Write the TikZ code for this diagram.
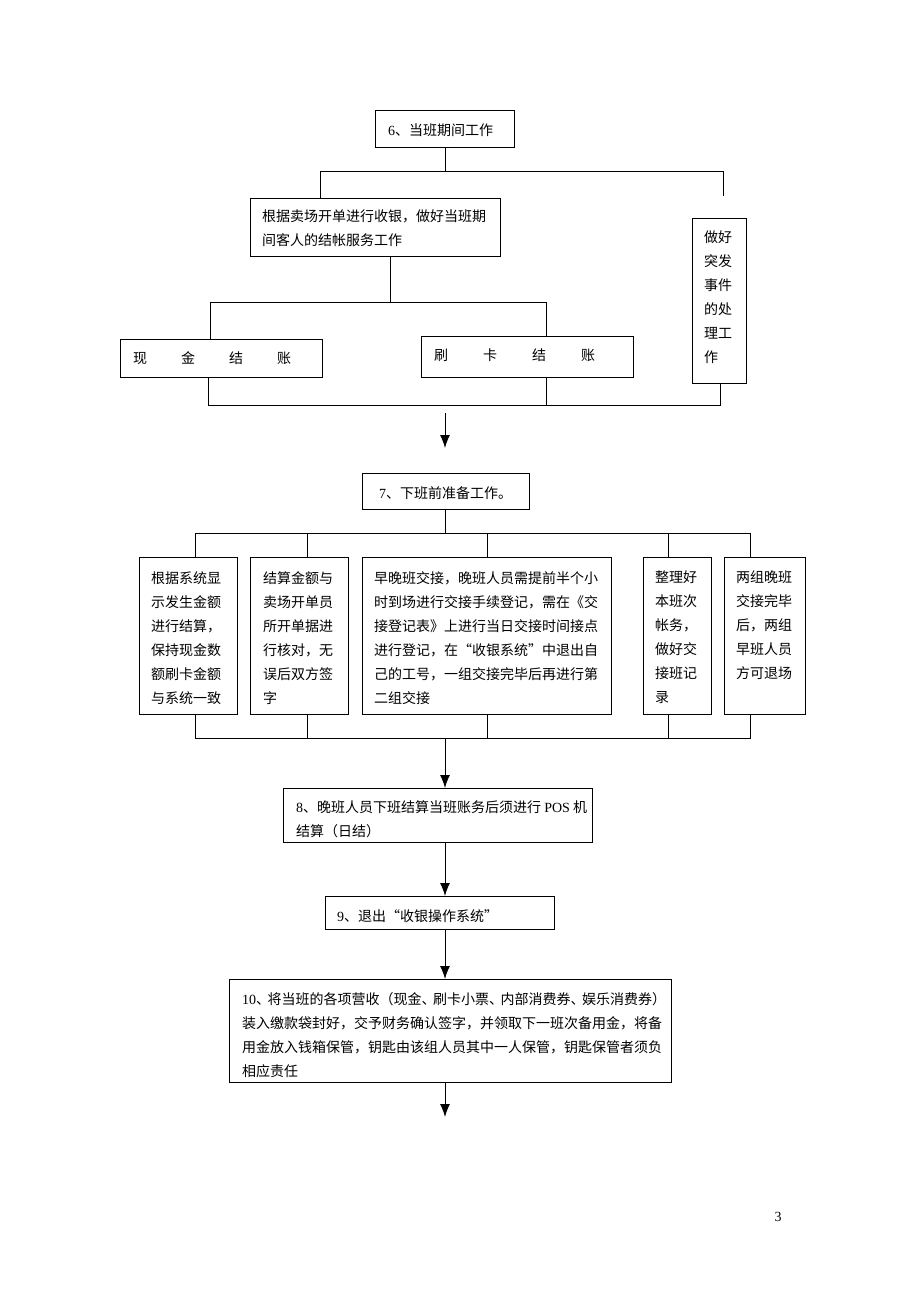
\documentclass[tikz,border=0pt]{standalone}
\usepackage{fontspec}
\setmainfont{Liberation Serif}
\newfontfamily\cjk{Noto Sans CJK SC}
\usetikzlibrary{arrows.meta,calc}
\newcommand\lat[1]{{\rmfamily #1}}
\newcommand\dun{、\kern-2.5pt}
\begin{document}
\begin{tikzpicture}[x=1pt,y=-1pt,
  box/.style={draw, line width=1.3pt, anchor=north west, inner sep=0pt},
  txt/.style={anchor=north west, inner sep=0pt, align=left, font=\cjk\fontsize{14}{24}\selectfont},
  conn/.style={line width=1pt},
  arr/.style={line width=1pt, -{Latex[length=13pt,width=10pt]}}]
\fill[white] (0,0) rectangle (920,1302);
\useasboundingbox (0,0) rectangle (920,1302);

% ---------- boxes ----------
\node[box, minimum width=139pt, minimum height=37pt] (n6) at (375,110) {};
\node[box, minimum width=250pt, minimum height=58pt] (nA) at (250,198) {};
\node[box, minimum width=202pt, minimum height=38pt] (nCash) at (120,339) {};
\node[box, minimum width=212pt, minimum height=41pt] (nCard) at (421,336) {};
\node[box, minimum width=54pt, minimum height=165pt] (nEm) at (692,218) {};
\node[box, minimum width=167pt, minimum height=36pt] (n7) at (362,473) {};
\node[box, minimum width=98pt, minimum height=157pt] (B1) at (139,557) {};
\node[box, minimum width=98pt, minimum height=157pt] (B2) at (250,557) {};
\node[box, minimum width=249pt, minimum height=157pt] (B3) at (362,557) {};
\node[box, minimum width=68pt, minimum height=157pt] (B4) at (643,557) {};
\node[box, minimum width=81pt, minimum height=157pt] (B5) at (724,557) {};
\node[box, minimum width=309pt, minimum height=54pt] (n8) at (283,788) {};
\node[box, minimum width=229pt, minimum height=33pt] (n9) at (325,896) {};
\node[box, minimum width=442pt, minimum height=103pt] (n10) at (229,979) {};

% ---------- texts ----------
\node[txt] (t6) at (388,124) {\lat{6}、当班期间工作};
\node[txt] (tA) at (262,210) {根据卖场开单进行收银，做好当班期\\间客人的结帐服务工作};
\node[txt] (tCash) at (133,351) {现\hspace{34pt}金\hspace{34pt}结\hspace{34pt}账};
\node[txt] (tCard) at (434,349) {刷\hspace{35pt}卡\hspace{35pt}结\hspace{35pt}账};
\node[txt] (tEm) at (704,231) {做好\\突发\\事件\\的处\\理工\\作};
\node[txt] (t7) at (379,486) {\lat{7}、下班前准备工作。};
\node[txt] (tB1) at (151,571) {根据系统显\\示发生金额\\进行结算，\\保持现金数\\额刷卡金额\\与系统一致};
\node[txt] (tB2) at (263,571) {结算金额与\\卖场开单员\\所开单据进\\行核对，无\\误后双方签\\字};
\node[txt] (tB3) at (374,571) {早晚班交接，晚班人员需提前半个小\\时到场进行交接手续登记，需在《交\\接登记表》上进行当日交接时间接点\\进行登记，在“收银系统”中退出自\\己的工号，一组交接完毕后再进行第\\二组交接};
\node[txt] (tB4) at (655,571) {整理好\\本班次\\帐务，\\做好交\\接班记\\录};
\node[txt] (tB5) at (736,571) {两组晚班\\交接完毕\\后，两组\\早班人员\\方可退场};
\node[txt] (t8) at (296,800) {\lat{8}、晚班人员下班结算当班账务后须进行 \lat{POS} 机\\结算（日结）};
\node[txt] (t9) at (337,909) {\lat{9}、退出“收银操作系统”};
\node[txt] (t10) at (242,992) {\lat{10}\dun 将当班的各项营收（现金\dun 刷卡小票\dun 内部消费券\dun 娱乐消费券）\\装入缴款袋封好，交予财务确认签字，并领取下一班次备用金，将备\\用金放入钱箱保管，钥匙由该组人员其中一人保管，钥匙保管者须负\\相应责任};
\node[font=\fontsize{14}{16}\selectfont, inner sep=0pt] (pg) at (778,1217) {3};

% ---------- connectors ----------
\coordinate (ax) at (445,0);
\coordinate (b1L) at (320,171);
\coordinate (b1R) at (723,171);
\coordinate (e1) at (723,196);
\draw[conn] (n6.south) -- (n6.south |- b1L);
\draw[conn] (nA.north -| b1L) -- (b1L) -- (b1R) -- (e1);

\coordinate (b2) at (390,302);
\coordinate (b2L) at (210,302);
\coordinate (b2R) at (546,302);
\draw[conn] (nA.south -| b2) -- (b2);
\draw[conn] (nCash.north -| b2L) -- (b2L) -- (b2R) -- (nCard.north -| b2R);

\coordinate (b3L) at (208,405);
\coordinate (b3R) at (720,405);
\draw[conn] (nCash.south -| b3L) -- (b3L) -- (b3R) -- (nEm.south -| b3R);
\draw[conn] (nCard.south -| b2R) -- (b2R |- b3L);

\coordinate (a1s) at (445,413);
\coordinate (a1e) at (445,448);
\draw[arr] (a1s) -- (a1e);

% stage 7 fan-out
\coordinate (x1) at (195,0);
\coordinate (x2) at (307,0);
\coordinate (x3) at (487,0);
\coordinate (x4) at (668,0);
\coordinate (x5) at (750,0);
\coordinate (top7) at (0,533);
\coordinate (bot7) at (0,738);
\draw[conn] (n7.south -| ax) -- (ax |- top7);
\draw[conn] (B1.north -| x1) -- (x1 |- top7) -- (x5 |- top7) -- (B5.north -| x5);
\draw[conn] (B2.north -| x2) -- (x2 |- top7);
\draw[conn] (B3.north -| x3) -- (x3 |- top7);
\draw[conn] (B4.north -| x4) -- (x4 |- top7);
\draw[conn] (B1.south -| x1) -- (x1 |- bot7) -- (x5 |- bot7) -- (B5.south -| x5);
\draw[conn] (B2.south -| x2) -- (x2 |- bot7);
\draw[conn] (B3.south -| x3) -- (x3 |- bot7);
\draw[conn] (B4.south -| x4) -- (x4 |- bot7);

\draw[arr] (ax |- bot7) -- (n8.north -| ax);
\draw[arr] (n8.south -| ax) -- (n9.north -| ax);
\draw[arr] (n9.south -| ax) -- (n10.north -| ax);
\coordinate (a5e) at (445,1117);
\draw[arr] (n10.south -| ax) -- (a5e);
\end{tikzpicture}
\end{document}
